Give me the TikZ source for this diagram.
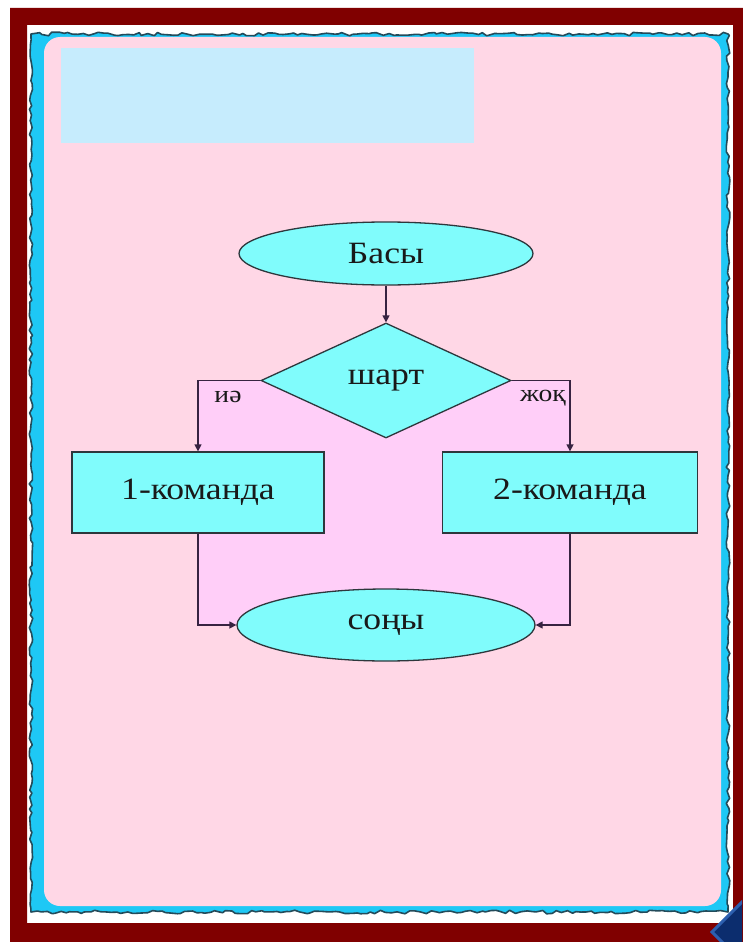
\documentclass[tikz,border=0pt]{standalone}
\usepackage{fontspec}
\setmainfont[FakeStretch=1.15]{Liberation Serif}
\usetikzlibrary{shapes.geometric,arrows.meta,decorations.pathmorphing}
\definecolor{frameRed}{RGB}{128,0,0}
\definecolor{panelPink}{RGB}{255,215,230}
\definecolor{panelCyan}{RGB}{30,200,245}
\definecolor{edgeTeal}{RGB}{35,75,90}
\definecolor{titleBlue}{RGB}{198,236,253}
\definecolor{zoneViolet}{RGB}{255,206,248}
\definecolor{shapeCyan}{RGB}{128,252,252}
\definecolor{shapeEdge}{RGB}{45,55,60}
\definecolor{connCol}{RGB}{55,35,65}
\definecolor{btnNavy}{RGB}{12,45,110}
\definecolor{btnBlue}{RGB}{45,95,175}
\pgfdeclarelayer{backpanel}
\pgfdeclarelayer{zone}
\pgfsetlayers{backpanel,zone,main}
\tikzset{
  flowbox/.style={draw=shapeEdge, fill=shapeCyan, line width=1.3pt, inner sep=0pt, font=\fontsize{31}{34}\selectfont, text=black!90},
  termbox/.style={flowbox, ellipse},
  condbox/.style={flowbox, diamond, aspect=2},
  cmdbox/.style={flowbox, rectangle},
  conn/.style={draw=connCol, line width=1.4pt, -{Triangle[length=7pt,width=7pt]}},
  lab/.style={inner sep=0pt, font=\fontsize{24}{26}\selectfont, text=black!90}
}
\begin{document}
\begin{tikzpicture}[x=1pt,y=-1pt]
\useasboundingbox (0,0) rectangle (742,942);
\begin{pgfonlayer}{backpanel}
\fill[white] (0,0) rectangle (742,942);
% red frame
\fill[frameRed, even odd rule] (10,8) rectangle (760,960) (27,25) rectangle (733,923);
% jagged panel
\pgfmathsetseed{11}
\fill[panelCyan, draw=edgeTeal, line width=1.6pt, line join=round,
  decorate, decoration={random steps, segment length=5pt, amplitude=1.8pt}]
  (31,34) rectangle (728,912);
\fill[panelPink, rounded corners=16pt] (44,37) rectangle (721,906);
% title block
\fill[titleBlue] (61,48) rectangle (474,143);
\end{pgfonlayer}
% flowchart nodes
\node[termbox, minimum width=294pt, minimum height=63pt] (start) at (386,253.5) {Басы};
\node[condbox, minimum width=250pt, minimum height=115pt] (cond) at (386,380.5) {шарт};
\node[cmdbox, minimum width=252pt, minimum height=81pt] (r1) at (198,492.5) {1-команда};
\node[cmdbox, minimum width=255pt, minimum height=81pt] (r2) at (570,492.5) {2-команда};
\node[termbox, minimum width=298pt, minimum height=72pt] (stop) at (386,625) {соңы};
% violet zone enclosed by the connectors
\begin{pgfonlayer}{zone}
\fill[zoneViolet] (cond.west -| r1.north) rectangle (stop.west -| r2.north);
\end{pgfonlayer}
% connectors
\draw[conn] (start) -- (cond);
\draw[conn] (cond.west) -| (r1.north);
\draw[conn] (cond.east) -| (r2.north);
\draw[conn] (r1.south) |- (stop.west);
\draw[conn] (r2.south) |- (stop.east);
% labels
\node[lab] (yes) at (228,397) {иә};
\node[lab] (no) at (543,398) {жоқ};
% corner button
\begin{scope}
\clip (0,0) rectangle (742,942);
\fill[btnNavy, draw=btnBlue, line width=3pt] (712,932) -- (750,894) -- (788,932) -- (750,970) -- cycle;
\end{scope}
\end{tikzpicture}
\end{document}
